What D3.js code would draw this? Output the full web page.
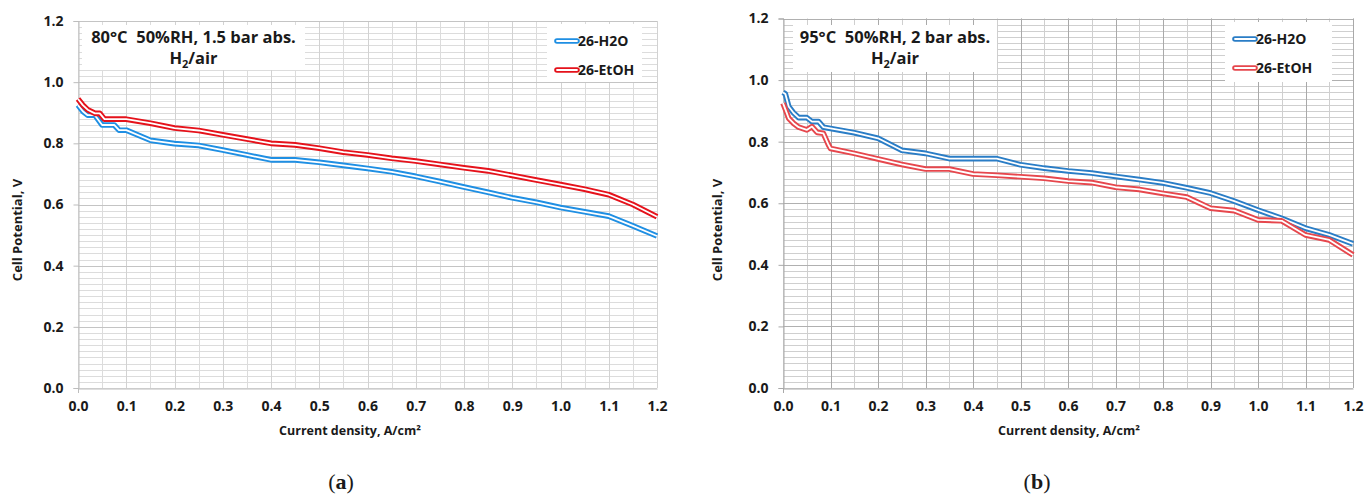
<!DOCTYPE html>
<html>
<head>
<meta charset="utf-8">
<script src="https://cdn.jsdelivr.net/npm/d3@7"></script>
<style>
  body { margin: 0; background: #fff; }
  svg { display: block; }
  text { font-family: "Open Sans", "DejaVu Sans", sans-serif; font-weight: bold; fill: #1a1a1a; }
</style>
</head>
<body>
<svg id="chart" width="1366" height="496"></svg>
<script>
// axis ticks (same on both panels)
const xTickValues = [0, 0.1, 0.2, 0.3, 0.4, 0.5, 0.6, 0.7, 0.8, 0.9, 1.0, 1.1, 1.2];
const yTickValues = [0, 0.2, 0.4, 0.6, 0.8, 1.0, 1.2];

// (a) 80°C 50%RH, 1.5 bar abs.
const aH2OCurrent = [0, 0.01, 0.02, 0.035, 0.05, 0.075, 0.085, 0.1, 0.15, 0.2, 0.25, 0.3, 0.35, 0.4, 0.45, 0.5, 0.55, 0.6, 0.65, 0.7, 0.75, 0.8, 0.85, 0.9, 0.95, 1.0, 1.05, 1.1, 1.15, 1.2];
const aH2OPotential = [0.925, 0.905, 0.892, 0.892, 0.86, 0.86, 0.843, 0.843, 0.81, 0.799, 0.793, 0.778, 0.762, 0.746, 0.746, 0.738, 0.728, 0.718, 0.707, 0.692, 0.675, 0.657, 0.64, 0.622, 0.607, 0.59, 0.576, 0.562, 0.53, 0.497];
const aEtOHCurrent = [0, 0.01, 0.02, 0.035, 0.045, 0.055, 0.1, 0.15, 0.2, 0.25, 0.3, 0.35, 0.4, 0.45, 0.5, 0.55, 0.6, 0.65, 0.7, 0.75, 0.8, 0.85, 0.9, 0.95, 1.0, 1.05, 1.1, 1.15, 1.2];
const aEtOHPotential = [0.945, 0.925, 0.91, 0.898, 0.898, 0.879, 0.879, 0.866, 0.85, 0.842, 0.828, 0.814, 0.8, 0.795, 0.784, 0.771, 0.762, 0.751, 0.742, 0.731, 0.72, 0.71, 0.695, 0.68, 0.665, 0.65, 0.632, 0.6, 0.56];

// (b) 95°C 50%RH, 2 bar abs.
const bH2OCurrent = [0, 0.005, 0.012, 0.022, 0.033, 0.05, 0.061, 0.075, 0.085, 0.1, 0.15, 0.2, 0.25, 0.3, 0.35, 0.4, 0.45, 0.5, 0.55, 0.6, 0.65, 0.7, 0.75, 0.8, 0.85, 0.9, 0.95, 1.0, 1.05, 1.1, 1.15, 1.2];
const bH2OPotential = [0.96, 0.955, 0.914, 0.894, 0.878, 0.878, 0.865, 0.865, 0.847, 0.843, 0.829, 0.811, 0.772, 0.762, 0.745, 0.745, 0.745, 0.725, 0.714, 0.705, 0.698, 0.687, 0.677, 0.666, 0.65, 0.633, 0.607, 0.578, 0.551, 0.519, 0.497, 0.468];
const bEtOHCurrent = [0, 0.005, 0.012, 0.022, 0.033, 0.05, 0.061, 0.072, 0.085, 0.096, 0.1, 0.15, 0.2, 0.25, 0.3, 0.35, 0.4, 0.45, 0.5, 0.55, 0.6, 0.65, 0.7, 0.75, 0.8, 0.85, 0.9, 0.95, 1.0, 1.05, 1.1, 1.15, 1.2];
const bEtOHPotential = [0.925, 0.905, 0.876, 0.86, 0.847, 0.838, 0.849, 0.83, 0.827, 0.789, 0.778, 0.762, 0.744, 0.726, 0.711, 0.711, 0.695, 0.691, 0.686, 0.681, 0.672, 0.667, 0.652, 0.645, 0.632, 0.62, 0.584, 0.576, 0.546, 0.543, 0.497, 0.481, 0.432];

const seriesNames = ["26-H2O", "26-EtOH"];

const svg = d3.select("#chart");

const panels = [
  {
    left: 78, right: 657, top: 21, bottom: 388,
    colors: ["#1f8fe3", "#e5121b"],
    gridMinor: "#dcdcdc", gridMajorX: "#d2d2d2", gridMajorY: "#c4c4c4", axisColor: "#bdbdbd",
    cond: "80°C  50%RH, 1.5 bar abs.",
    condBox: [82, 25, 223, 45],
    legendBox: [547, 24, 95, 58],
    xTitleX: 350, yTitleX: 18,
    caption: "a", captionX: 341,
    series: [[aH2OCurrent, aH2OPotential], [aEtOHCurrent, aEtOHPotential]]
  },
  {
    left: 783, right: 1353, top: 18.5, bottom: 388,
    colors: ["#2a7dc6", "#e6474d"],
    gridMinor: "#cfcfcf", gridMajorX: "#a9a9a9", gridMajorY: "#b0b0b0", axisColor: "#a9a9a9",
    cond: "95°C  50%RH, 2 bar abs.",
    condBox: [793, 25, 204, 47],
    legendBox: [1225, 22, 107, 60],
    xTitleX: 1069, yTitleX: 718,
    caption: "b", captionX: 1037,
    series: [[bH2OCurrent, bH2OPotential], [bEtOHCurrent, bEtOHPotential]]
  }
];

function drawPanel(p) {
  const x = d3.scaleLinear().domain([0, 1.2]).range([p.left, p.right]);
  const y = d3.scaleLinear().domain([0, 1.2]).range([p.bottom, p.top]);
  const g = svg.append("g");

  // minor horizontal grid every 0.02, vertical every 0.05
  g.append("g").selectAll("line").data(y.ticks(60)).join("line")
    .attr("x1", p.left).attr("x2", p.right)
    .attr("y1", d => Math.round(y(d)) + 0.5).attr("y2", d => Math.round(y(d)) + 0.5)
    .attr("stroke", p.gridMinor).attr("stroke-width", 1);
  g.append("g").selectAll("line").data(x.ticks(24)).join("line")
    .attr("y1", p.top).attr("y2", p.bottom)
    .attr("x1", d => Math.round(x(d)) + 0.5).attr("x2", d => Math.round(x(d)) + 0.5)
    .attr("stroke", p.gridMinor).attr("stroke-width", 1);
  // major grid
  g.append("g").selectAll("line").data(xTickValues.slice(1)).join("line")
    .attr("y1", p.top).attr("y2", p.bottom)
    .attr("x1", d => Math.round(x(d)) + 0.5).attr("x2", d => Math.round(x(d)) + 0.5)
    .attr("stroke", p.gridMajorX).attr("stroke-width", 1);
  g.append("g").selectAll("line").data(yTickValues.slice(1)).join("line")
    .attr("x1", p.left).attr("x2", p.right)
    .attr("y1", d => Math.round(y(d)) + 0.5).attr("y2", d => Math.round(y(d)) + 0.5)
    .attr("stroke", p.gridMajorY).attr("stroke-width", 1);

  // axes
  const yAxis = g.append("g").attr("transform", `translate(${Math.round(p.left) + 0.5},0)`)
    .call(d3.axisLeft(y).tickValues(yTickValues).tickSize(5).tickPadding(10).tickFormat(d3.format(".1f")));
  const xAxis = g.append("g").attr("transform", `translate(0,${Math.round(p.bottom) + 0.5})`)
    .call(d3.axisBottom(x).tickValues(xTickValues).tickSize(0).tickPadding(13).tickFormat(d3.format(".1f")));
  [yAxis, xAxis].forEach(a => {
    a.select(".domain").attr("stroke", p.axisColor);
    a.selectAll(".tick line").attr("stroke", p.axisColor);
    a.selectAll(".tick text").style("font-size", "14px").attr("fill", "#1a1a1a");
  });
  g.append("line")
    .attr("x1", Math.round(p.left) + 0.5).attr("x2", Math.round(p.left) + 0.5)
    .attr("y1", p.bottom).attr("y2", p.bottom + 5)
    .attr("stroke", p.axisColor);

  // condition box
  const cb = p.condBox;
  g.append("rect").attr("x", cb[0]).attr("y", cb[1]).attr("width", cb[2]).attr("height", cb[3]).attr("fill", "#fff");
  g.append("text").attr("x", cb[0] + cb[2] / 2).attr("y", 43)
    .attr("text-anchor", "middle").style("font-size", "16.5px").style("white-space", "pre")
    .text(p.cond);
  const h2 = g.append("text").attr("x", cb[0] + cb[2] / 2).attr("y", 64)
    .attr("text-anchor", "middle").style("font-size", "16.5px");
  h2.append("tspan").text("H");
  h2.append("tspan").attr("dy", 4).style("font-size", "11px").text("2");
  h2.append("tspan").attr("dy", -4).text("/air");

  // series: double (outlined) lines
  const line = d3.line().x(d => x(d[0])).y(d => y(d[1]));
  p.series.forEach((s, i) => {
    const pts = d3.zip(s[0], s[1]);
    g.append("path").datum(pts).attr("d", line).attr("fill", "none")
      .attr("stroke", p.colors[i]).attr("stroke-width", 5.6).attr("stroke-linejoin", "round");
    g.append("path").datum(pts).attr("d", line).attr("fill", "none")
      .attr("stroke", "#fff").attr("stroke-width", 1.8).attr("stroke-linejoin", "round");
  });

  // legend
  const lb = p.legendBox;
  g.append("rect").attr("x", lb[0]).attr("y", lb[1]).attr("width", lb[2]).attr("height", lb[3]).attr("fill", "#fff");
  seriesNames.forEach((name, i) => {
    const cy = lb[1] + 17 + i * 29;
    const x0 = lb[0] + 10, x1 = lb[0] + 30;
    g.append("line").attr("x1", x0).attr("x2", x1).attr("y1", cy).attr("y2", cy)
      .attr("stroke", p.colors[i]).attr("stroke-width", 5.6).attr("stroke-linecap", "round");
    g.append("line").attr("x1", x0).attr("x2", x1).attr("y1", cy).attr("y2", cy)
      .attr("stroke", "#fff").attr("stroke-width", 1.8).attr("stroke-linecap", "round");
    g.append("text").attr("x", x1 + 1).attr("y", cy + 5).style("font-size", "14px").text(name);
  });

  // axis titles
  g.append("text").attr("x", p.xTitleX).attr("y", 435).attr("text-anchor", "middle")
    .style("font-size", "12.5px").text("Current density, A/cm²");
  g.append("text").attr("transform", `translate(${p.yTitleX + 4},230) rotate(-90)`)
    .attr("text-anchor", "middle").style("font-size", "13px").text("Cell Potential, V");

  // caption
  const cap = g.append("text").attr("x", p.captionX).attr("y", 489).attr("text-anchor", "middle")
    .style("font-family", "'Liberation Serif', serif").style("font-weight", "normal").style("font-size", "22px");
  cap.append("tspan").text("(");
  cap.append("tspan").style("font-weight", "bold").text(p.caption);
  cap.append("tspan").text(")");
}

panels.forEach(drawPanel);
</script>
</body>
</html>
